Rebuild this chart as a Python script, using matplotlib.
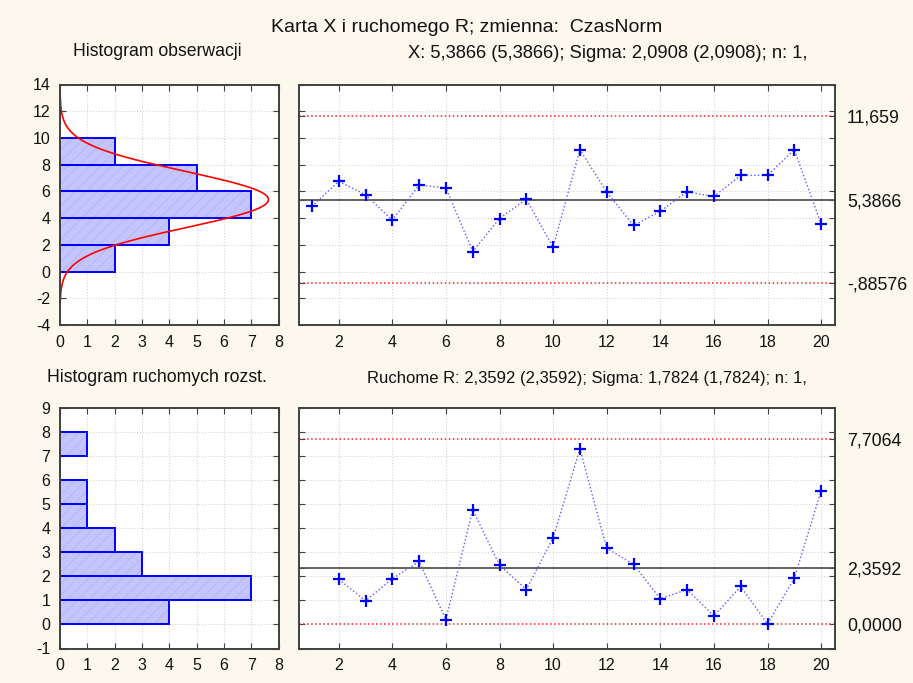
import numpy as np
import matplotlib
matplotlib.use("Agg")
import matplotlib.pyplot as plt

plt.rcParams['font.family'] = ['Liberation Sans', 'DejaVu Sans']
plt.rcParams['axes.unicode_minus'] = False
plt.rcParams['hatch.linewidth'] = 0.5

# --- data: individual observations (CzasNorm) and their moving ranges ---
sample = list(range(1, 21))
x_values = [4.87, 6.75, 5.75, 3.85, 6.47, 6.27, 1.50, 3.97, 5.42, 1.82,
            9.12, 5.95, 3.45, 4.52, 5.97, 5.62, 7.20, 7.20, 9.12, 3.57]
mr_sample = list(range(2, 21))
mr_values = [1.88, 0.98, 1.90, 2.62, 0.20, 4.77, 2.47, 1.45, 3.60, 7.30,
             3.17, 2.50, 1.07, 1.45, 0.35, 1.58, 0.02, 1.92, 5.55]

# histogram of observations (bin edges on y, counts on x)
x_bins_lo = [0, 2, 4, 6, 8]
x_counts = [2, 4, 7, 5, 2]
x_bin_w = 2

# histogram of moving ranges
mr_bins_lo = [0, 1, 2, 3, 4, 5, 6, 7]
mr_counts = [4, 7, 3, 2, 1, 1, 0, 1]
mr_bin_w = 1

# control limits
x_mean, x_sigma, x_ucl, x_lcl = 5.3866, 2.0908, 11.659, -0.88576
x_limit_labels = ['11,659', '5,3866', '-,88576']
mr_mean, mr_ucl, mr_lcl = 2.3592, 7.7064, 0.0
mr_limit_labels = ['7,7064', '2,3592', '0,0000']

bg = '#fdf8ee'
fill = '#c4c4ff'
hatch_col = '#b2b2f2'
edge = '#0000ff'
frame = '#404040'
txt = '#111111'
grid_kw = dict(color='#d4d4d4', linestyle=':', linewidth=0.8)

fig = plt.figure(figsize=(9.13, 6.83), dpi=100, facecolor=bg)
W, H = 913, 683


def place(l, t, r, b):
    return fig.add_axes([l / W, 1 - b / H, (r - l) / W, (b - t) / H])


ax_hx = place(60, 84.5, 278.5, 325)
ax_x = place(298.5, 84.5, 834.5, 325)
ax_hr = place(60, 408, 278.5, 648.5)
ax_r = place(298.5, 408, 834.5, 648.5)

for ax in (ax_hx, ax_x, ax_hr, ax_r):
    ax.set_facecolor('white')
    for s in ax.spines.values():
        s.set_color(frame)
        s.set_linewidth(1.4)
    ax.tick_params(direction='in', length=4, width=0.8, colors=frame,
                   labelcolor=txt, labelsize=11.5, pad=7,
                   top=True, right=True)
    ax.set_axisbelow(True)


def histogram(ax, lo, counts, w):
    ax.barh(lo, counts, height=w, align='edge', color=fill,
            edgecolor=hatch_col, linewidth=0, hatch='///')
    ax.barh(lo, counts, height=w, align='edge', color='none',
            edgecolor=edge, linewidth=1.4)


# observations histogram with fitted normal curve
histogram(ax_hx, x_bins_lo, x_counts, x_bin_w)
yy = np.linspace(x_mean - 3.85 * x_sigma, x_mean + 3.85 * x_sigma, 300)
pdf = len(x_values) * x_bin_w * np.exp(-0.5 * ((yy - x_mean) / x_sigma) ** 2) \
    / (x_sigma * np.sqrt(2 * np.pi))
ax_hx.plot(pdf, yy, color='#ff0000', linewidth=1.2)
ax_hx.set_xlim(0, 8)
ax_hx.set_ylim(-4, 14)
ax_hx.set_xticks(range(0, 9))
ax_hx.set_yticks(range(-4, 15, 2))
ax_hx.grid(True, **grid_kw)

# moving range histogram
histogram(ax_hr, mr_bins_lo, mr_counts, mr_bin_w)
ax_hr.set_xlim(0, 8)
ax_hr.set_ylim(-1, 9)
ax_hr.set_xticks(range(0, 9))
ax_hr.set_yticks(range(-1, 10))
ax_hr.grid(True, **grid_kw)


def control_chart(ax, xs, ys, center, ucl, lcl, grid_ticks, labels):
    grid_ticks = [t for t in grid_ticks if t not in (ucl, center, lcl)]
    ax.axhline(ucl, color='#ff2020', linestyle=':', linewidth=1.1)
    ax.axhline(lcl, color='#ff2020', linestyle=':', linewidth=1.1)
    ax.axhline(center, color='#555555', linewidth=1.3)
    ax.plot(xs, ys, color='#5a5aff', linestyle=':', linewidth=1.0)
    ax.plot(xs, ys, linestyle='none', marker='+', color=edge,
            markersize=9, markeredgewidth=1.6)
    ax.set_xlim(0.5, 20.5)
    ax.set_xticks(range(2, 21, 2))
    ax.set_yticks(list(grid_ticks) + [ucl, center, lcl])
    ax.set_yticklabels([''] * len(grid_ticks) + labels)
    ax.tick_params(axis='y', labelleft=False, labelright=True,
                   labelsize=12.8, pad=9)
    ax.grid(True, **grid_kw)
    # no grid line at the control-limit ticks
    for gl in ax.get_ygridlines()[len(grid_ticks):]:
        gl.set_visible(False)


control_chart(ax_x, sample, x_values, x_mean, x_ucl, x_lcl,
              range(-4, 15, 2), x_limit_labels)
ax_x.set_ylim(-4, 14)

control_chart(ax_r, mr_sample, mr_values, mr_mean, mr_ucl, mr_lcl,
              range(-1, 10), mr_limit_labels)
ax_r.set_ylim(-1, 9)

# titles
fig.text(467 / W, 1 - 28 / H, 'Karta X i ruchomego R; zmienna:  CzasNorm',
         ha='center', va='center', fontsize=14, color=txt)
fig.text(157 / W, 1 - 52 / H, 'Histogram obserwacji',
         ha='center', va='center', fontsize=12.7, color=txt)
fig.text(408 / W, 1 - 53 / H,
         'X: 5,3866 (5,3866); Sigma: 2,0908 (2,0908); n: 1,',
         ha='left', va='center', fontsize=13.2, color=txt)
fig.text(157 / W, 1 - 378 / H, 'Histogram ruchomych rozst.',
         ha='center', va='center', fontsize=12.7, color=txt)
fig.text(367 / W, 1 - 378 / H,
         'Ruchome R: 2,3592 (2,3592); Sigma: 1,7824 (1,7824); n: 1,',
         ha='left', va='center', fontsize=12, color=txt)

fig.savefig('out.png', dpi=100, facecolor=bg)
